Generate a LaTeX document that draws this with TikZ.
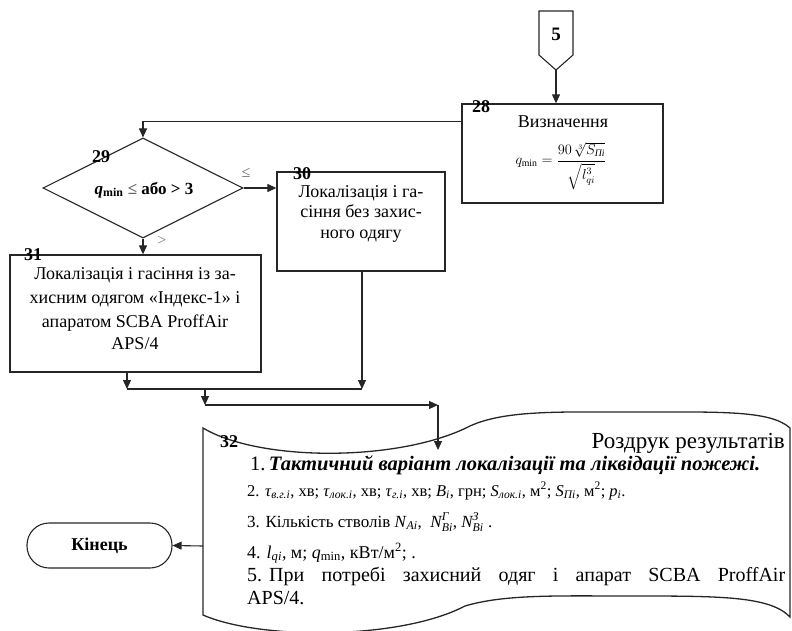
\documentclass[tikz,border=0pt]{standalone}
\usepackage{fontspec}
\usepackage{amsmath}
\setmainfont{Liberation Serif}
\usetikzlibrary{arrows.meta,shapes.geometric}
\begin{document}
\begin{tikzpicture}[x=1pt,y=-1pt,
  ln/.style={line width=1.1pt,draw=black!85},
  arr/.style={ln,-{Triangle[length=9pt,width=8pt]}},
  box/.style={draw=black!85,line width=1.3pt,inner sep=0pt},
  num/.style={font=\fontsize{18}{18}\selectfont\bfseries,inner sep=0pt},
  txt/.style={inner sep=0pt,anchor=base,font=\fontsize{18}{18}\selectfont},
  doctxt/.style={inner sep=0pt,anchor=base west,font=\fontsize{17}{17}\selectfont}
]
\useasboundingbox (0,0) rectangle (792,631);
% off-page connector 5
\draw[box,line width=1.1pt] (539,11) -- (573,11) -- (573,55) -- (556,70) -- (539,55) -- cycle;
\node[num,font=\fontsize{19}{19}\selectfont\bfseries] (c5) at (556,34) {5};
\coordinate (c5tip) at (556,70);
% box 28
\node[box,minimum width=201pt,minimum height=99pt] (b28) at (562.5,153.5) {};
\node[num] (n28) at (481,107) {28};
\node[txt,anchor=center] (t28) at (563,122) {Визначення};
\node[inner sep=0pt,font=\fontsize{14}{14}\selectfont] (f28) at (561,166)
  {$q_{\min}=\dfrac{90\,\sqrt[3]{S_{\text{\itshape Пі}}}}{\sqrt{l_{qi}^{3}}}$};
% diamond 29
\node[diamond,draw=black!85,line width=1.1pt,inner sep=0pt,minimum width=200pt,minimum height=100pt,aspect=2] (d29) at (143,188) {};
\node[num] (n29) at (101,157) {29};
\node[inner sep=0pt,font=\fontsize{17}{17}\selectfont\bfseries] (t29) at (144,190) {\textit{q}\textsubscript{min} \textcolor{black!60}{≤} або {>} 3};
\node[inner sep=0pt,font=\fontsize{16}{16}\selectfont,text=black!60] (le) at (246,173) {≤};
\node[inner sep=0pt,font=\fontsize{16}{16}\selectfont,text=black!50] (gt) at (162,241) {>};
% box 30
\node[box,minimum width=168pt,minimum height=99pt] (b30) at (361,221.5) {};
\node[num] (n30) at (302,174) {30};
\node[txt] (t30a) at (361,197) {Локалізація і га-};
\node[txt] (t30b) at (361,217) {сіння без захис-};
\node[txt] (t30c) at (361,238) {ного одягу};
% box 31
\node[box,minimum width=251pt,minimum height=117pt] (b31) at (135.5,313.5) {};
\node[num] (n31) at (33,255) {31};
\node[txt] (t31a) at (135,279) {Локалізація і гасіння із за-};
\node[txt] (t31b) at (135,303) {хисним одягом «Індекс-1» і};
\node[txt] (t31c) at (135,327) {апаратом SCBA ProffAir};
\node[txt] (t31d) at (135,349) {APS/4};
% document 32
\draw[ln,line width=1.3pt] (203,428)
  .. controls (260,462) and (400,462) .. (470,426)
  .. controls (505,410) and (560,412) .. (630,412)
  .. controls (720,412) and (770,410) .. (790,428)
  -- (790,617)
  .. controls (770,596) and (720,596) .. (630,596)
  .. controls (560,596) and (505,594) .. (465,606)
  .. controls (400,640) and (260,640) .. (203,615) -- cycle;
\node[num] (n32) at (229,442) {32};
\node[inner sep=0pt,anchor=base east,font=\fontsize{23}{23}\selectfont] (h32) at (785,448) {Роздрук результатів};
\node[doctxt,font=\fontsize{20.5}{20.5}\selectfont] (l1) at (250,470) {1.\,\textbf{\textit{Тактичний варіант локалізації та ліквідації пожежі.}}};
\node[doctxt,font=\fontsize{16.5}{16.5}\selectfont] (l2) at (247,496) {2. \textit{τ}\textsubscript{\textit{в.г.і}}, хв; \textit{τ}\textsubscript{\textit{лок.і}}, хв; \textit{τ}\textsubscript{\textit{г.і}}, хв; \textit{B}\textsubscript{\textit{i}}, грн; \textit{S}\textsubscript{\textit{лок.і}}, м\textsuperscript{2}; \textit{S}\textsubscript{\textit{Пі}}, м\textsuperscript{2}; \textit{p}\textsubscript{\textit{i}}.};
\node[doctxt] (l3) at (247,527) {3. Кількість стволів \textit{N}\textsubscript{\textit{Ai}}, \ $\textit{N}^{\textit{Г}}_{\textit{Bi}}$, $\textit{N}^{\textit{З}}_{\textit{Bi}}$ .};
\node[doctxt,font=\fontsize{18}{18}\selectfont] (l4) at (247,558) {4. \textit{l}\textsubscript{\textit{qi}}, м; \textit{q}\textsubscript{min}, кВт/м\textsuperscript{2}; .};
\node[doctxt,font=\fontsize{20}{20}\selectfont] (l5) at (247,581) {\makebox[538pt][s]{5.\hspace{7pt}При потребі захисний одяг і апарат SCBA ProffAir}};
\node[doctxt,font=\fontsize{20}{20}\selectfont] (l6) at (247,604) {APS/4.};
% terminal
\node[draw=black!85,line width=1.1pt,rounded corners=22pt,minimum width=145pt,minimum height=45pt,font=\fontsize{18}{18}\selectfont\bfseries] (end) at (99.5,545.5) {Кінець};
% connectors
\draw[arr] (c5tip) -- (c5tip |- b28.north);
\draw[arr] ([yshift=-18pt]b28.north west) -| (d29.north);
\draw[arr] (d29.east) -- (d29.east -| b30.west);
\draw[arr] (d29.south) -- (d29.south |- b31.north);
\coordinate (j1) at (127,389);
\coordinate (j2) at (362,389);
\coordinate (j3) at (205,389);
\coordinate (j4) at (205,405);
\coordinate (j5) at (438,405);
\coordinate (j6) at (438,450);
\coordinate (j7) at (203,546);
\draw[arr] (b31.south -| j1) -- (j1);
\draw[arr] (b30.south -| j2) -- (j2);
\draw[ln] (j1) -- (j2);
\draw[arr] (j3) -- (j4);
\draw[arr] (j4) -- (j5);
\draw[arr] (j5) -- (j6);
\draw[arr] (j7) -- (end.east);
\end{tikzpicture}
\end{document}
